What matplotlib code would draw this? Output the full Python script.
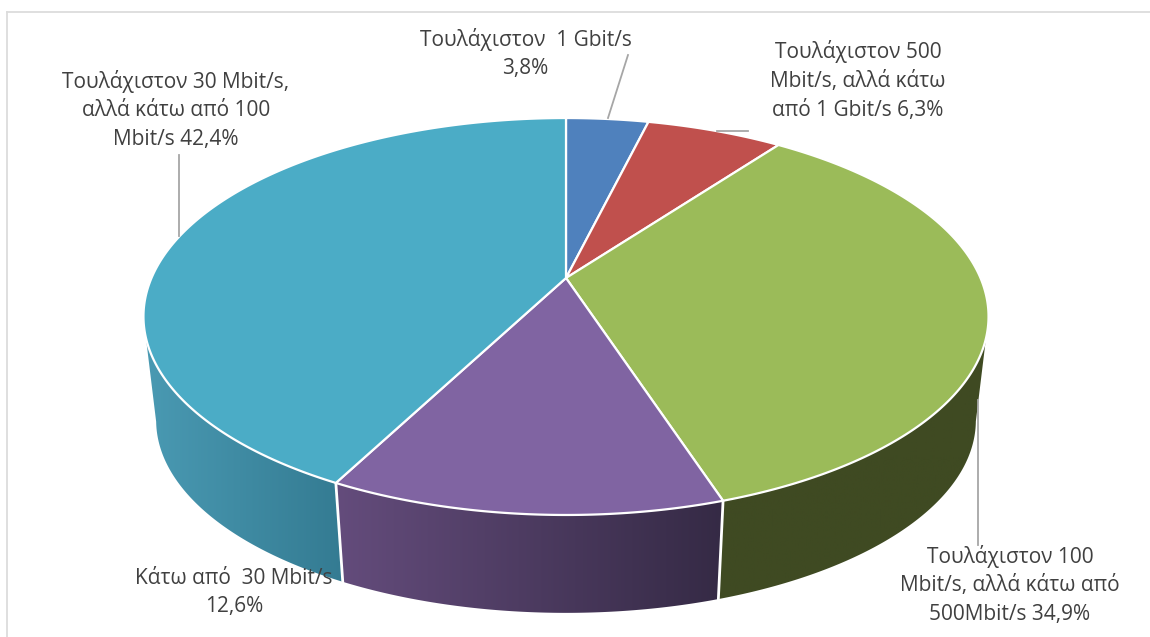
import numpy as np
import matplotlib
matplotlib.use("Agg")
import matplotlib.pyplot as plt
from matplotlib.patches import Polygon
from matplotlib.colors import LinearSegmentedColormap

# Data
values = [3.8, 6.3, 34.9, 12.6, 42.4]
labels = ["Τουλάχιστον  1 Gbit/s\n3,8%",
          "Τουλάχιστον 500\nMbit/s, αλλά κάτω\nαπό 1 Gbit/s 6,3%",
          "Τουλάχιστον 100\nMbit/s, αλλά κάτω από\n500Mbit/s 34,9%",
          "Κάτω από  30 Mbit/s\n12,6%",
          "Τουλάχιστον 30 Mbit/s,\nαλλά κάτω από 100\nMbit/s 42,4%"]

top_colors = ["#4f81bd", "#c0504d", "#9bbb59", "#8064a2", "#4bacc6"]
side_left = ["#2f4d71", "#733030", "#3f4a22", "#644c7c", "#4a9ab3"]
side_right = ["#2f4d71", "#733030", "#3f4a22", "#352a45", "#347b92"]
label_pos = [(525.5, 53.5), (858, 80.5), (1010, 585), (234, 592.5), (176, 110)]
leaders = [((628, 55), (608, 118)), ((717, 131), (748, 131)),
           ((978, 400), (978, 545)), ((179, 155), (179, 236))]

# Projection of the circular pie (perspective view), in pixels
CX, CY = 566.0, 278.0
A, B, K = 414.5, 191.0, 0.194
SCALE, DROP = 0.97, 105.0


def top_pt(theta):
    x, y = np.sin(theta), np.cos(theta)
    w = 1 + K * y
    return CX + A * x / w, CY - B * y / w


def bottom_pt(theta):
    u, v = top_pt(theta)
    return CX + SCALE * (u - CX), CY + SCALE * (v - CY) + DROP


fig = plt.figure(figsize=(11.5, 6.37), dpi=100, facecolor="white")
ax = fig.add_axes([0, 0, 1, 1])
ax.axis("off")

# Chart frame: only the top and left edges fall inside the picture
ax.plot([7, 1150], [12, 12], color="#dcdcdc", lw=1.3, zorder=1)
ax.plot([7, 7], [12, 637], color="#dcdcdc", lw=1.3, zorder=1)

fracs = np.cumsum([0] + values) / sum(values) * 2 * np.pi
yy, xx = np.mgrid[0:1, 0:256]

# Side walls
order = [4, 2, 3]
for i in order:
    t = np.linspace(fracs[i], fracs[i + 1], 300)
    t = t[np.cos(t) <= -K]
    tx, ty = top_pt(t)
    bx, by = bottom_pt(t)
    pts = np.r_[np.c_[tx, ty], np.c_[bx, by][::-1]]
    poly = Polygon(pts, closed=True, fc="none", ec="none", zorder=2)
    ax.add_patch(poly)
    cmap = LinearSegmentedColormap.from_list("s", [side_left[i], side_right[i]])
    im = ax.imshow(xx, cmap=cmap, aspect="auto", zorder=2,
                   extent=(pts[:, 0].min(), pts[:, 0].max(), pts[:, 1].max(), pts[:, 1].min()))
    im.set_clip_path(poly)
ax.set_xlim(0, 1150)
ax.set_ylim(637, 0)

# White seams on the wall
for i in [3, 4]:
    th = fracs[i]
    p, q = top_pt(th), bottom_pt(th)
    ax.plot([p[0], q[0]], [p[1], q[1]], color="white", lw=2, zorder=3)

# Top slices
for i in range(len(values)):
    t = np.linspace(fracs[i], fracs[i + 1], 300)
    tx, ty = top_pt(t)
    pts = np.r_[[[CX, CY]], np.c_[tx, ty]]
    ax.add_patch(Polygon(pts, closed=True, fc=top_colors[i], ec="white", lw=1.6,
                         joinstyle="round", zorder=4))

# Leaders
for (a, b) in leaders:
    ax.plot([a[0], b[0]], [a[1], b[1]], color="#a6a6a6", lw=1.3, zorder=5)

# Labels
for s, (x, y) in zip(labels, label_pos):
    ax.text(x, y, s, ha="center", va="center", fontsize=15, color="#404040",
            family="Open Sans", linespacing=1.49, zorder=6)

fig.savefig("out.png", dpi=100)
